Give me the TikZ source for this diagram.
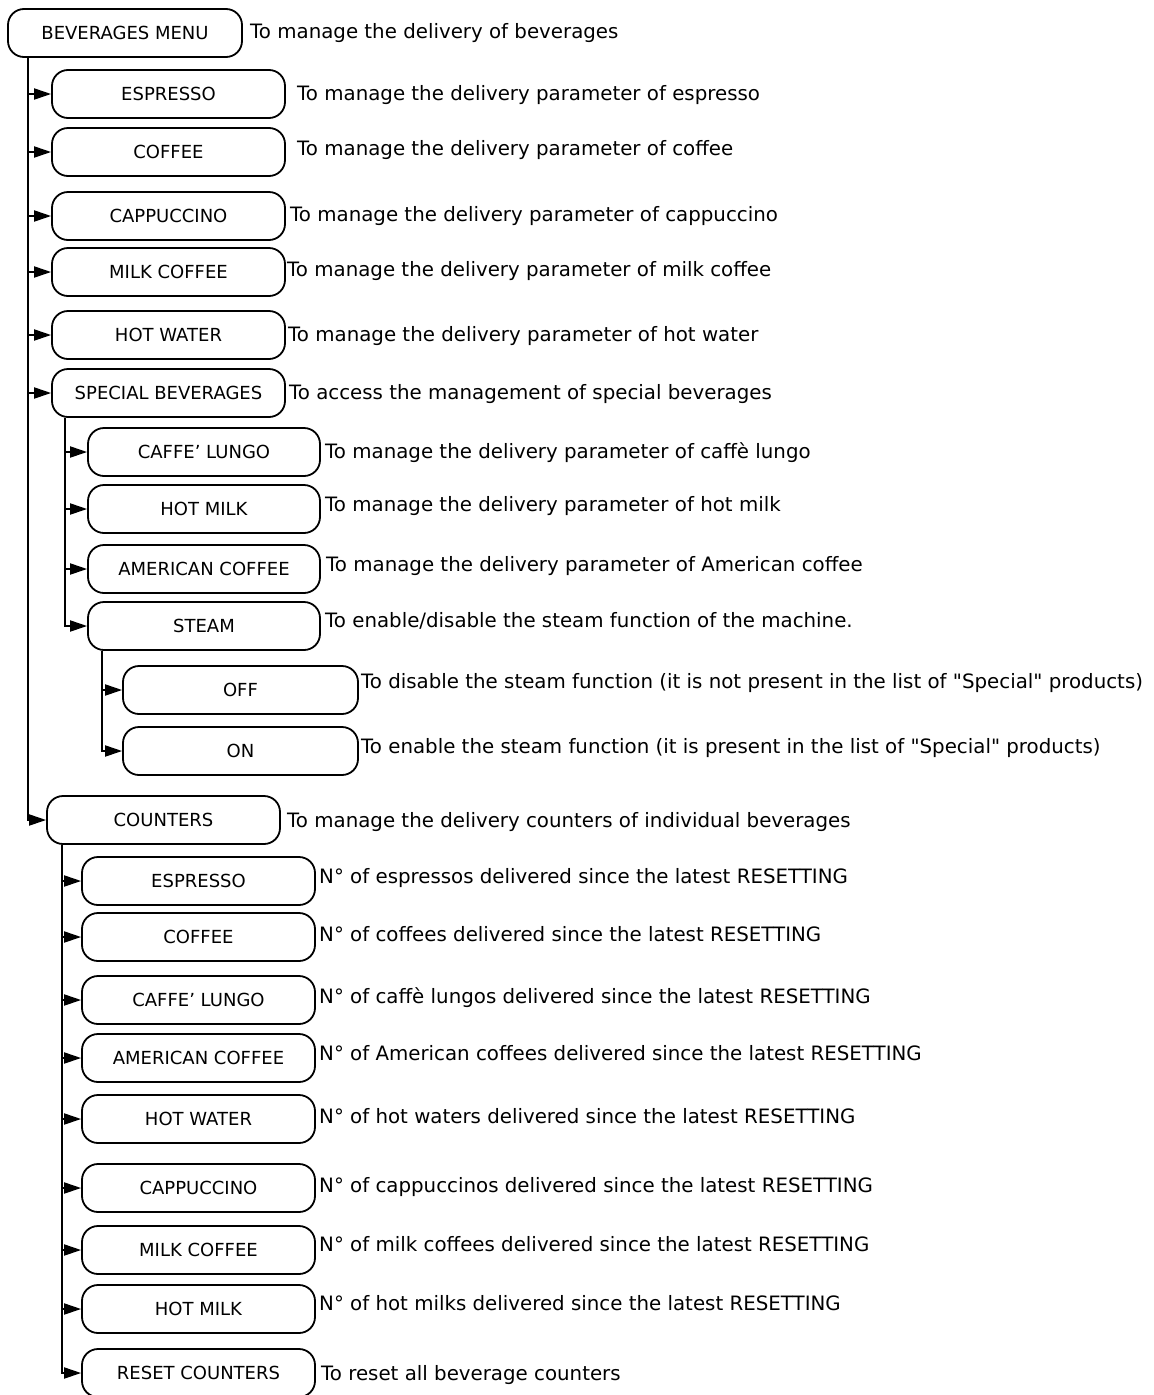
\documentclass[tikz,border=0pt]{standalone}
\usepackage{fontspec}
\setmainfont{DejaVu Sans}[Ligatures=TeXOff]
\usetikzlibrary{arrows.meta}
\begin{document}
\begin{tikzpicture}[x=1pt,y=-1pt,
  box/.style={draw=black, line width=1.8pt, rounded corners=16pt, minimum height=48pt, inner sep=0pt, font=\fontsize{18}{20}\selectfont},
  desc/.style={anchor=base west, inner sep=0pt, font=\fontsize{19.8}{24}\selectfont},
  conn/.style={line width=1.9pt, -{Triangle[length=17pt,width=11pt]}}
]
\fill[white] (0,0) rectangle (1154,1395);
\useasboundingbox (0,0) rectangle (1154,1395);

% trunk coordinates
\coordinate (t1) at (28,0);
\coordinate (t2) at (65,0);
\coordinate (t3) at (102,0);
\coordinate (t4) at (62,0);

% root
\node[box, minimum width=234pt] (bm) at (125,33) {BEVERAGES MENU};
\node[desc] (dbm) at (250,38) {To manage the delivery of beverages};

% level 1
\node[box, minimum width=233pt] (esp) at (168.5,94) {ESPRESSO};
\node[box, minimum width=233pt] (cof) at (168.5,152) {COFFEE};
\node[box, minimum width=233pt] (cap) at (168.5,216) {CAPPUCCINO};
\node[box, minimum width=233pt] (milk) at (168.5,272) {MILK COFFEE};
\node[box, minimum width=233pt] (hw) at (168.5,335) {HOT WATER};
\node[box, minimum width=233pt] (spec) at (168.5,393) {SPECIAL BEVERAGES};

\node[desc] (desp) at (297,100) {To manage the delivery parameter of espresso};
\node[desc] (dcof) at (297,155) {To manage the delivery parameter of coffee};
\node[desc] (dcap) at (290,221) {To manage the delivery parameter of cappuccino};
\node[desc] (dmilk) at (287,276) {To manage the delivery parameter of milk coffee};
\node[desc] (dhw) at (288,341) {To manage the delivery parameter of hot water};
\node[desc] (dspec) at (289,399) {To access the management of special beverages};

% special children
\node[box, minimum width=232pt] (cl) at (204,452) {CAFFE’ LUNGO};
\node[box, minimum width=232pt] (hm) at (204,509) {HOT MILK};
\node[box, minimum width=232pt] (am) at (204,569) {AMERICAN COFFEE};
\node[box, minimum width=232pt] (st) at (204,626) {STEAM};

\node[desc] (dcl) at (325,458) {To manage the delivery parameter of caffè lungo};
\node[desc] (dhm) at (325,511) {To manage the delivery parameter of hot milk};
\node[desc] (dam) at (326,571) {To manage the delivery parameter of American coffee};
\node[desc] (dst) at (325,627) {To enable/disable the steam function of the machine.};

% steam children
\node[box, minimum width=235pt] (off) at (240.5,690) {OFF};
\node[box, minimum width=235pt] (on) at (240.5,751) {ON};
\node[desc] (doff) at (361,688) {To disable the steam function (it is not present in the list of "Special" products)};
\node[desc] (don) at (361,753) {To enable the steam function (it is present in the list of "Special" products)};

% counters
\node[box, minimum width=233pt] (counters) at (163.5,820) {COUNTERS};
\node[desc] (dcounters) at (287,827) {To manage the delivery counters of individual beverages};

\node[box, minimum width=233pt] (cesp) at (198.5,881) {ESPRESSO};
\node[box, minimum width=233pt] (ccof) at (198.5,937) {COFFEE};
\node[box, minimum width=233pt] (ccl) at (198.5,1000) {CAFFE’ LUNGO};
\node[box, minimum width=233pt] (cam) at (198.5,1058) {AMERICAN COFFEE};
\node[box, minimum width=233pt] (chw) at (198.5,1119) {HOT WATER};
\node[box, minimum width=233pt] (ccap) at (198.5,1188) {CAPPUCCINO};
\node[box, minimum width=233pt] (cmc) at (198.5,1250) {MILK COFFEE};
\node[box, minimum width=233pt] (chm) at (198.5,1309) {HOT MILK};
\node[box, minimum width=233pt] (reset) at (198.5,1373) {RESET COUNTERS};

\node[desc] (dcesp) at (319,883) {N° of espressos delivered since the latest RESETTING};
\node[desc] (dccof) at (319,941) {N° of coffees delivered since the latest RESETTING};
\node[desc] (dccl) at (319,1003) {N° of caffè lungos delivered since the latest RESETTING};
\node[desc] (dcam) at (319,1060) {N° of American coffees delivered since the latest RESETTING};
\node[desc] (dchw) at (319,1123) {N° of hot waters delivered since the latest RESETTING};
\node[desc] (dccap) at (319,1192) {N° of cappuccinos delivered since the latest RESETTING};
\node[desc] (dcmc) at (319,1251) {N° of milk coffees delivered since the latest RESETTING};
\node[desc] (dchm) at (319,1310) {N° of hot milks delivered since the latest RESETTING};
\node[desc] (dreset) at (321,1380) {To reset all beverage counters};

% connectors
\draw[conn] (bm.south -| t1) |- (counters.west);
\foreach \n in {esp,cof,cap,milk,hw,spec} \draw[conn] (t1 |- \n.west) -- (\n.west);

\draw[conn] (spec.south -| t2) |- (st.west);
\foreach \n in {cl,hm,am} \draw[conn] (t2 |- \n.west) -- (\n.west);

\draw[conn] (st.south -| t3) |- (on.west);
\draw[conn] (t3 |- off.west) -- (off.west);

\draw[conn] (counters.south -| t4) |- (reset.west);
\foreach \n in {cesp,ccof,ccl,cam,chw,ccap,cmc,chm} \draw[conn] (t4 |- \n.west) -- (\n.west);
\end{tikzpicture}
\end{document}
